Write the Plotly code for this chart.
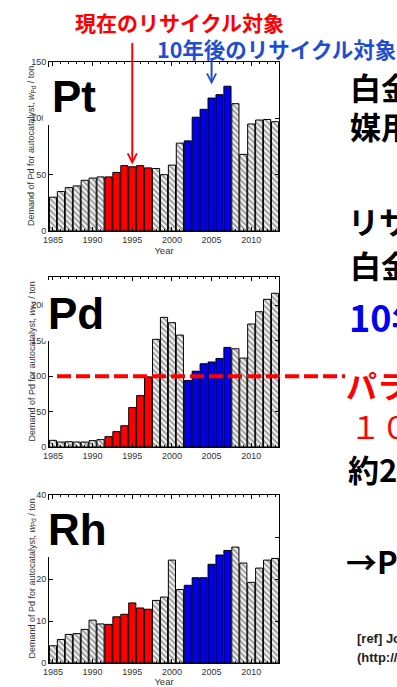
import plotly.graph_objects as go

# ---------------- data ----------------
years = list(range(1985, 2014))
pt_demand = [30, 35, 38.5, 40, 45, 47, 48,
             48, 52, 58, 57, 58, 56,
             55.5, 50, 58.5, 78,
             80, 101, 108, 118, 121, 128.5,
             113, 68, 95, 98.5, 99, 97]
pd_demand = [9.4, 7, 7.5, 7, 7, 9, 10.4,
             14.6, 21.7, 30, 55.7, 72.6, 99,
             152, 183, 175.5, 158,
             94, 107, 117.5, 120, 125, 140.6,
             138.7, 125.5, 173.6, 191, 208.5, 217]
rh_demand = [4.1, 5.6, 6.8, 7, 8, 10.2, 9.3,
             9.2, 11, 11.6, 14.3, 13.1, 12.8,
             14.9, 15.7, 24.5, 17.5,
             18.5, 20.3, 20.3, 23.5, 25.7, 26.8,
             27.6, 23.8, 19.2, 22.6, 24.5, 24.9]
current_years = list(range(1992, 1998))   # 現在のリサイクル対象
future_years = list(range(2002, 2008))    # 10年後のリサイクル対象
x_tick_labels = [1985, 1990, 1995, 2000, 2005, 2010]
metals = ["Pt", "Pd", "Rh"]
y_ranges = [[0, 150], [0, 240], [0, 40]]
y_dticks = [50, 50, 10]
pd_level = 100

# ---------------- styles ----------------
W, H = 397, 687
RED = "#FF0000"
BLUE = "#0000EE"
TXT_BLUE = "#1F4FD0"
JP = "Noto Sans CJK JP"
LAT = "Liberation Sans"


def py(p):
    return 1 - p / H


def px(p):
    return p / W


colors, shapes = [], []
for yr in years:
    if yr in current_years:
        colors.append(RED); shapes.append("")
    elif yr in future_years:
        colors.append(BLUE); shapes.append("")
    else:
        colors.append("white"); shapes.append("\\")

fig = go.Figure()
series = [pt_demand, pd_demand, rh_demand]
doms = [(231, 62), (447, 277), (663, 495)]
for i, vals in enumerate(series):
    sfx = "" if i == 0 else str(i + 1)
    fig.add_trace(go.Bar(
        x=years, y=vals, xaxis="x" + sfx, yaxis="y" + sfx, width=0.9,
        marker=dict(color=colors, line=dict(color="black", width=1),
                    pattern=dict(shape=shapes, fgcolor="black", bgcolor="white",
                                 size=4, solidity=0.55)),
        showlegend=False, hoverinfo="x+y"))

axis_common = dict(showline=True, linecolor="black", linewidth=1, mirror="ticks",
                   ticks="inside", tickcolor="black", ticklen=4, showgrid=False,
                   zeroline=False, tickfont=dict(family=LAT, size=9, color="#333"))
layout = dict(width=W, height=H,
              margin=dict(l=0, r=0, t=0, b=0, autoexpand=False),
              plot_bgcolor="white", paper_bgcolor="white", bargap=0.1,
              showlegend=False)
x_titles = ["Year", "", "Year"]
for i in range(3):
    sfx = "" if i == 0 else str(i + 1)
    b, t = doms[i]
    layout["xaxis" + sfx] = dict(axis_common, domain=[px(49), px(279)],
                                 range=[1984.5, 2013.5], tickvals=x_tick_labels,
                                 anchor="y" + sfx,
                                 title=dict(text=x_titles[i], standoff=3,
                                            font=dict(family=LAT, size=9.5, color="#333")),
                                 minor=dict(dtick=1, ticks="inside", ticklen=2,
                                            tickcolor="black"))
    layout["yaxis" + sfx] = dict(axis_common, domain=[py(b), py(t)],
                                 range=y_ranges[i], dtick=y_dticks[i],
                                 anchor="x" + sfx)
fig.update_layout(**layout)

ann = []
shp = []
# y axis titles
for i in range(3):
    sfx = "" if i == 0 else str(i + 1)
    ann.append(dict(text="Demand of Pd for autocatalyst, <i>w</i><sub>Pd</sub> / ton",
                    xref="paper", yref="y" + sfx + " domain", x=px(24), y=0.5,
                    textangle=-90, showarrow=False,
                    font=dict(family=LAT, size=9, color="#333")))

# white cover boxes with metal labels
covers = [(43, 67, 100, 125), (43, 280, 100, 341), (37, 500, 100, 557)]
label_y = [96, 313, 529]
label_x = [50, 46, 46]
for i, (x0, y0, x1, y1) in enumerate(covers):
    shp.append(dict(type="rect", xref="paper", yref="paper", x0=px(x0), x1=px(x1),
                    y0=py(y1), y1=py(y0), fillcolor="white", line=dict(width=0),
                    layer="above"))
    ann.append(dict(text="<b>%s</b>" % metals[i], xref="paper", yref="paper",
                    x=px(label_x[i]), y=py(label_y[i]), xanchor="left", yanchor="middle",
                    showarrow=False, font=dict(family=LAT, size=44, color="black")))

# dashed level line on Pd chart
shp.append(dict(type="line", xref="paper", yref="y2", x0=px(57), x1=px(345),
                y0=pd_level, y1=pd_level, line=dict(color=RED, width=4, dash="14px,5px"),
                layer="above"))

# top labels and arrows
ann.append(dict(text="<b>現在のリサイクル対象</b>", xref="paper", yref="paper",
                x=px(73), y=py(22), xanchor="left", yanchor="middle", showarrow=False,
                font=dict(family=JP, size=21, color=RED)))
ann.append(dict(text="<b>10年後のリサイクル対象</b>", xref="paper", yref="paper",
                x=px(155), y=py(49), xanchor="left", yanchor="middle", showarrow=False,
                font=dict(family=JP, size=21.5, color=TXT_BLUE)))
ann.append(dict(text="", x=1995, y=59, xref="x", yref="y", ax=0, ay=-123,
                showarrow=True, arrowhead=5, arrowsize=0.9, arrowwidth=2,
                arrowcolor=RED))
ann.append(dict(text="", x=2005, y=130, xref="x", yref="y", ax=0, ay=-28,
                showarrow=True, arrowhead=5, arrowsize=0.9, arrowwidth=2,
                arrowcolor=TXT_BLUE))

# right side slide text (cropped by the window)
right_text = [
    ("<b>白金族金属の自動車触</b>", 86, 348, 31, "black", JP),
    ("<b>媒用需要の推移</b>", 126, 348, 31, "black", JP),
    ("<b>リサイクル対象となる</b>", 220, 346, 31, "black", JP),
    ("<b>白金族金属の量</b>", 264, 348, 31, "black", JP),
    ("<b>10年後に倍増</b>", 316, 347, 36, BLUE, JP),
    ("<b>パラジウムは</b>", 384, 344, 31, RED, JP),
    ("１００ｔ以上", 425, 348, 31, RED, JP),
    ("<b>約2倍</b>", 468, 346, 31, "black", JP),
    ("<b>→Pdのリサイクル</b>", 560, 344, 31, "black", JP),
    ("<b>[ref] Johnson Matthey</b>", 638, 355, 13, "#222", LAT),
    ("<b>(http://www.platinum.matthey.com)</b>", 657, 355, 13, "#222", LAT),
]
for txt, yy, xx, sz, col, fam in right_text:
    ann.append(dict(text=txt, xref="paper", yref="paper", x=px(xx), y=py(yy),
                    xanchor="left", yanchor="middle", showarrow=False,
                    font=dict(family=fam, size=sz, color=col)))

fig.update_layout(annotations=ann, shapes=shp)
fig.write_html("out.html", config={"displayModeBar": False},
               post_script="document.body.style.margin='0';"
                           "document.body.style.overflow='hidden';")
